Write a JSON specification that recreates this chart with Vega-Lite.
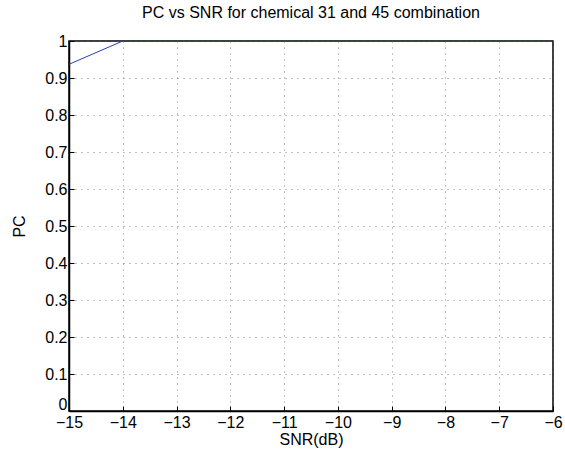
{
  "$schema": "https://vega.github.io/schema/vega-lite/v6.json",
  "autosize": {"type": "none"},
  "width": 484,
  "height": 370,
  "padding": {"left": 69, "top": 41, "right": 12, "bottom": 42},
  "background": "white",
  "config": {
    "font": "Liberation Sans",
    "view": {"stroke": "black", "strokeWidth": 1.5},
    "axis": {
      "domainColor": "black",
      "domainWidth": 1.5,
      "tickColor": "black",
      "tickSize": -5,
      "labelFontSize": 16,
      "labelColor": "black",
      "titleFontSize": 16,
      "titleFontWeight": "normal",
      "titleColor": "black",
      "gridColor": "#666666",
      "gridDash": [1, 5],
      "gridWidth": 1,
      "gridOpacity": 0.8
    }
  },
  "title": {
    "text": "PC vs SNR for chemical 31 and 45 combination",
    "fontSize": 16,
    "fontWeight": "normal",
    "font": "Liberation Sans",
    "color": "black",
    "offset": 12
  },
  "data": {
    "values": [
      {"snr": -15, "pc": 0.937},
      {"snr": -14, "pc": 1},
      {"snr": -13, "pc": 1},
      {"snr": -12, "pc": 1},
      {"snr": -11, "pc": 1},
      {"snr": -10, "pc": 1},
      {"snr": -9, "pc": 1},
      {"snr": -8, "pc": 1},
      {"snr": -7, "pc": 1},
      {"snr": -6, "pc": 1}
    ]
  },
  "mark": {"type": "line", "color": "#2a3ea8", "strokeWidth": 1, "clip": true},
  "encoding": {
    "x": {
      "field": "snr",
      "type": "quantitative",
      "scale": {"domain": [-15, -6], "nice": false, "zero": false},
      "axis": {"values": [-15, -14, -13, -12, -11, -10, -9, -8, -7, -6], "title": "SNR(dB)", "labelPadding": 8, "titlePadding": 1, "labelFlush": false}
    },
    "y": {
      "field": "pc",
      "type": "quantitative",
      "scale": {"domain": [0, 1], "nice": false},
      "axis": {"values": [0, 0.1, 0.2, 0.3, 0.4, 0.5, 0.6, 0.7, 0.8, 0.9, 1], "format": ".1~f", "title": "PC", "labelPadding": 7, "titlePadding": 17, "labelFlush": false, "labelOffset": {"condition": {"test": "datum.value == 0", "value": -7}, "value": 0}}
    }
  }
}
